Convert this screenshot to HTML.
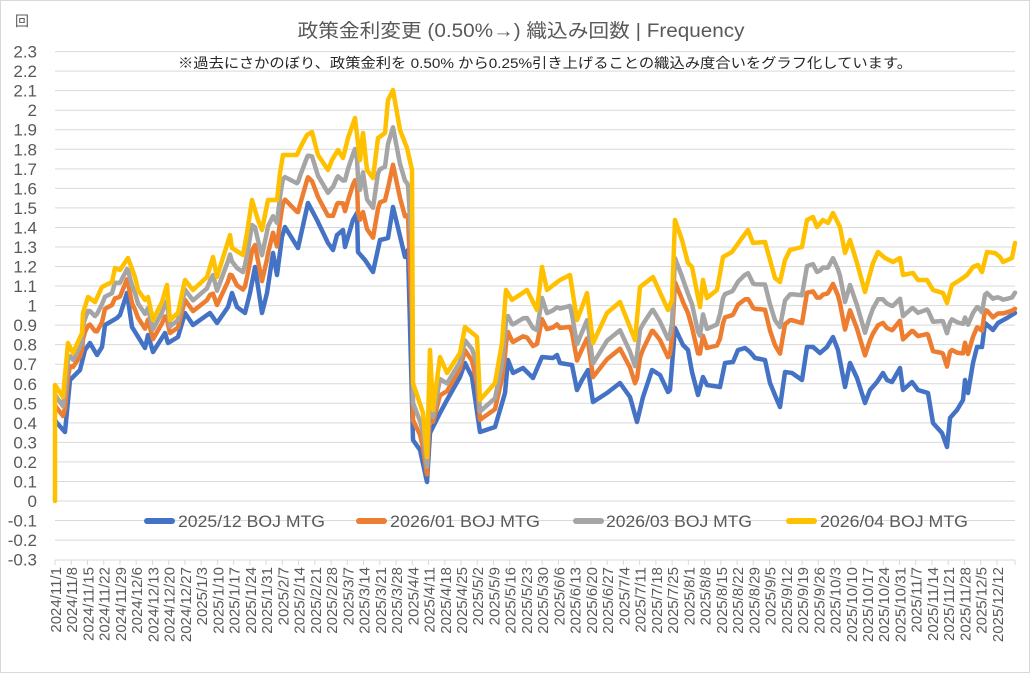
<!DOCTYPE html>
<html><head><meta charset="utf-8"><style>
html,body{margin:0;padding:0;background:#fff;}
svg{display:block;font-family:"Liberation Sans","Noto Sans CJK JP",sans-serif;}
</style></head><body>
<svg id="c" width="1030" height="673" viewBox="0 0 1030 673" xmlns="http://www.w3.org/2000/svg">
<rect x="0.5" y="0.5" width="1029" height="672" fill="#fff" stroke="#d9d9d9"/>
<text x="521" y="37" text-anchor="middle" font-size="19" fill="#595959" textLength="447" lengthAdjust="spacingAndGlyphs">政策金利変更 (0.50%→) 織込み回数 | Frequency</text>
<text x="545" y="68" text-anchor="middle" font-size="14" fill="#262626" textLength="734" lengthAdjust="spacingAndGlyphs">※過去にさかのぼり、政策金利を 0.50% から0.25%引き上げることの織込み度合いをグラフ化しています。</text>
<text x="22" y="26" text-anchor="middle" font-size="14" fill="#595959">回</text>
<g id="grid"></g>
<g id="series"></g>
<g id="legend" font-size="17" fill="#595959">
<rect x="144" y="518" width="31" height="6" rx="3" fill="#4472c4"/><text x="178" y="527" textLength="147" lengthAdjust="spacingAndGlyphs">2025/12 BOJ MTG</text>
<rect x="356" y="518" width="31" height="6" rx="3" fill="#ed7d31"/><text x="390" y="527" textLength="150" lengthAdjust="spacingAndGlyphs">2026/01 BOJ MTG</text>
<rect x="573" y="518" width="31" height="6" rx="3" fill="#a5a5a5"/><text x="606" y="527" textLength="146" lengthAdjust="spacingAndGlyphs">2026/03 BOJ MTG</text>
<rect x="786" y="518" width="31" height="6" rx="3" fill="#ffc000"/><text x="820" y="527" textLength="148" lengthAdjust="spacingAndGlyphs">2026/04 BOJ MTG</text>
</g>
</svg>
<script>
var NS="http://www.w3.org/2000/svg";
function el(t,a,p,txt){var e=document.createElementNS(NS,t);for(var k in a)e.setAttribute(k,a[k]);if(txt!==undefined)e.textContent=txt;p.appendChild(e);return e;}
var grid=document.getElementById('grid');
var y0=501,u=195.4;
for(var i=-3;i<=23;i++){var y=y0-i*u/10;
 if(i!=-3) el('line',{x1:55,x2:1015,y1:y,y2:y,stroke:'#d9d9d9','stroke-width':1},grid);
 var lab=(i/10).toFixed(1).replace(/\.0$/,'');if(i==0)lab='0';
 el('text',{x:37,y:y+6,'text-anchor':'end','font-size':17,fill:'#595959'},grid,lab);}
el('line',{x1:55,x2:1015,y1:560,y2:560,stroke:'#d9d9d9'},grid);
var d=new Date(2024,10,1);var step=16.24;
for(var k=0;k<=58;k++){var x=55+k*step;
 el('line',{x1:x,x2:x,y1:560,y2:565,stroke:'#d9d9d9'},grid);
 var s=d.getFullYear()+'/'+(d.getMonth()+1)+'/'+d.getDate();
 el('text',{transform:'translate('+(x+6)+',567) rotate(-90)','text-anchor':'end','font-size':15,fill:'#595959'},grid,s);
 d.setDate(d.getDate()+7);}
el('line',{x1:1015,x2:1015,y1:560,y2:565,stroke:'#d9d9d9'},grid);
var Y=[[55,385],[63,397],[68,343],[73,353],[82,333],[83,313],[88,297],[95,302],[102,287],[112,282],[115,268],[120,270],[128,258],[135,277],[138,290],[145,300],[148,297],[153,320],[162,302],[167,285],[170,320],[178,313],[185,280],[193,290],[207,277],[213,257],[217,277],[230,235],[232,248],[243,255],[247,233],[252,200],[258,220],[262,230],[268,200],[277,200],[280,173],[283,155],[297,155],[300,148],[307,135],[312,132],[318,155],[328,170],[332,160],[338,150],[343,158],[348,138],[355,118],[360,160],[363,133],[367,170],[373,178],[378,138],[385,133],[388,100],[393,90],[400,130],[407,148],[412,170],[413,383],[423,413],[427,457],[430,350],[433,410],[440,357],[447,373],[460,353],[465,327],[477,337],[480,400],[495,383],[502,343],[506,290],[512,300],[527,290],[537,310],[542,267],[547,290],[560,280],[570,275],[577,320],[582,307],[587,293],[593,343],[607,313],[620,302],[635,340],[640,287],[653,277],[668,310],[672,300],[675,220],[682,240],[688,263],[692,267],[700,307],[703,280],[707,298],[717,290],[723,257],[732,252],[737,245],[742,238],[748,230],[753,243],[765,242],[770,260],[775,278],[780,282],[785,260],[790,250],[802,247],[807,220],[813,217],[817,227],[823,220],[828,223],[833,213],[840,227],[845,253],[850,240],[857,263],[865,292],[873,263],[878,252],[885,258],[893,262],[900,258],[903,275],[913,273],[918,280],[927,280],[933,290],[943,293],[947,303],[952,285],[960,280],[967,275],[973,267],[978,265],[982,272],[987,252],[995,253],[1000,257],[1003,262],[1012,258],[1015,243]];
var B=[[55,420],[57,423],[65,432],[70,380],[80,370],[85,350],[90,343],[97,355],[102,347],[105,325],[117,318],[120,315],[127,293],[132,327],[145,348],[148,335],[153,352],[165,333],[168,343],[178,337],[185,313],[193,325],[210,313],[217,323],[228,307],[232,293],[237,307],[245,313],[250,293],[255,267],[262,313],[267,293],[273,253],[277,275],[282,237],[285,227],[298,248],[308,203],[317,220],[328,243],[333,250],[337,235],[343,230],[345,247],[353,220],[357,213],[358,252],[365,260],[373,272],[380,240],[388,238],[393,207],[405,257],[408,250],[413,440],[420,450],[427,482],[430,433],[440,413],[447,400],[460,377],[465,363],[472,377],[480,432],[495,427],[505,393],[508,360],[513,373],[523,368],[533,378],[542,357],[553,358],[557,355],[560,363],[572,365],[577,390],[582,380],[588,370],[593,402],[607,393],[620,383],[630,397],[637,422],[643,397],[652,370],[660,375],[668,392],[670,390],[675,328],[683,345],[688,350],[692,372],[698,395],[703,377],[707,385],[720,387],[725,363],[733,362],[738,350],[745,348],[750,352],[755,358],[765,360],[770,383],[777,400],[780,407],[785,372],[792,373],[802,380],[807,347],[813,347],[820,353],[827,347],[833,337],[838,350],[845,387],[850,363],[857,378],[865,403],[870,390],[877,382],[883,373],[887,380],[892,382],[900,368],[903,390],[912,382],[918,390],[928,393],[933,423],[942,433],[947,447],[950,418],[957,410],[963,400],[965,380],[968,393],[973,363],[977,347],[982,347],[985,323],[993,330],[998,323],[1007,318],[1015,313]];
var FO=[[55,.42,.72],[400,.36,.68],[413,.35,.65],[430,.3,.6],[505,.42,.66],[900,.43,.63],[945,.58,.81],[975,.25,.5],[1015,.06,.29]];
function interp(P,x){for(var i=1;i<P.length;i++){if(x<=P[i][0]){var a=P[i-1],b=P[i];var t=(b[0]==a[0])?1:(x-a[0])/(b[0]-a[0]);return a[1]+(b[1]-a[1])*t;}}return P[P.length-1][1];}
function interpF(x,j){for(var i=1;i<FO.length;i++){if(x<=FO[i][0]){var a=FO[i-1],b=FO[i];var t=(x-a[0])/(b[0]-a[0]);return a[j]+(b[j]-a[j])*t;}}return FO[FO.length-1][j];}
var xs={};Y.forEach(function(p){xs[p[0]]=1});B.forEach(function(p){xs[p[0]]=1});
var X=Object.keys(xs).map(Number).sort(function(a,b){return a-b});
var pb=[],po=[],pg=[],py=['55,501'];
X.forEach(function(x){var b=interp(B,x),y=interp(Y,x);var o=b-interpF(x,1)*(b-y),g=b-interpF(x,2)*(b-y);
 pb.push(x+','+b.toFixed(1));po.push(x+','+o.toFixed(1));pg.push(x+','+g.toFixed(1));py.push(x+','+y.toFixed(1));});
var sg=document.getElementById('series');
[[pb,'#4472c4'],[po,'#ed7d31'],[pg,'#a5a5a5'],[py,'#ffc000']].forEach(function(s){
 el('polyline',{points:s[0].join(' '),fill:'none',stroke:s[1],'stroke-width':4.5,'stroke-linejoin':'round','stroke-linecap':'round'},sg);});
</script>
</body></html>
